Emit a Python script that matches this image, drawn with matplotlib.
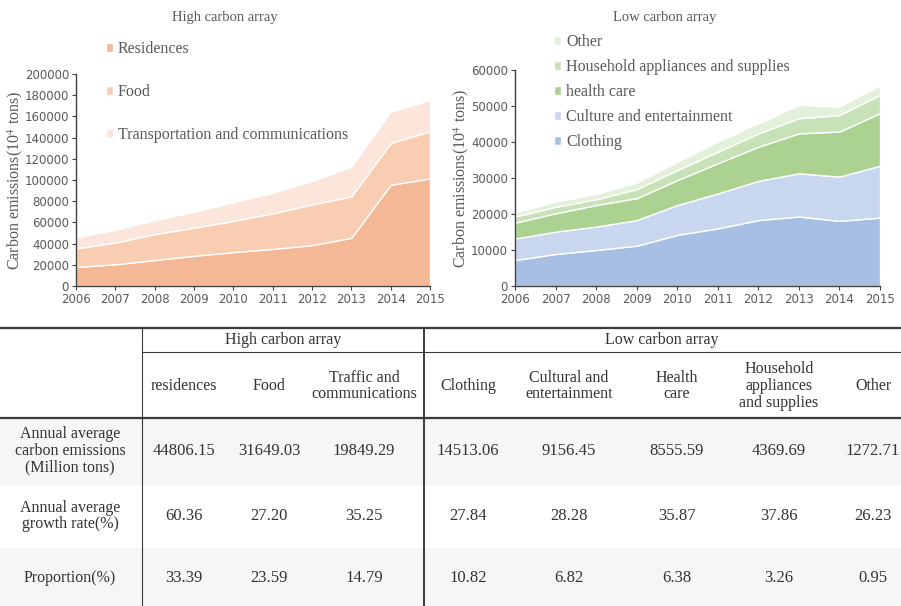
import numpy as np
import matplotlib
matplotlib.use("Agg")
import matplotlib.pyplot as plt

plt.rcParams['mathtext.fontset'] = 'stix'

years = [2006, 2007, 2008, 2009, 2010, 2011, 2012, 2013, 2014, 2015]

# high carbon array (10^4 tons)
residences = [18000, 20500, 24500, 28500, 32000, 35000, 38500, 45500, 95500, 101500]
food = [17500, 20500, 24500, 26500, 29500, 33500, 38500, 39000, 39500, 44500]
transport = [10500, 12000, 13000, 15000, 17500, 19500, 22000, 28000, 29500, 29500]
high_labels = ["Residences", "Food", "Transportation and communications"]
high_colors = ["#F4B896", "#F8CDB2", "#FCE5DA"]

# low carbon array (10^4 tons)
clothing = [7200, 8900, 10000, 11200, 14200, 16000, 18300, 19300, 18100, 19000]
culture = [6000, 6200, 6500, 7100, 8300, 9700, 10900, 12000, 12300, 14400]
health = [4400, 5100, 6000, 6100, 6900, 8400, 9500, 11100, 12500, 14600]
household = [1700, 1800, 1600, 2500, 2800, 3200, 3700, 4200, 4600, 5100]
other = [1100, 1400, 1500, 1800, 2200, 2800, 2800, 3700, 2300, 2700]
low_labels = ["Clothing", "Culture and entertainment", "health care",
              "Household appliances and supplies", "Other"]
low_colors = ["#A7BFE3", "#C8D7EF", "#ABD290", "#C7E2B6", "#E3F0DA"]

# table contents
col_headers = ["residences", "Food", "Traffic and\ncommunications",
               "Clothing", "Cultural and\nentertainment", "Health\ncare",
               "Household\nappliances\nand supplies", "Other"]
row_headers = ["Annual average\ncarbon emissions\n(Million tons)",
               "Annual average\ngrowth rate(%)", "Proportion(%)"]
avg_emissions = ["44806.15", "31649.03", "19849.29", "14513.06", "9156.45",
                 "8555.59", "4369.69", "1272.71"]
growth_rate = ["60.36", "27.20", "35.25", "27.84", "28.28", "35.87", "37.86", "26.23"]
proportion = ["33.39", "23.59", "14.79", "10.82", "6.82", "6.38", "3.26", "0.95"]

W, H = 901, 606
fig = plt.figure(figsize=(W / 100, H / 100), dpi=100)
txt = "#595959"
serif = "Liberation Serif"


def style_axes(ax, ymax, ystep):
    ax.set_xlim(2006, 2015)
    ax.set_ylim(0, ymax)
    ax.set_xticks(years)
    ax.set_yticks(np.arange(0, ymax + 1, ystep))
    for s in ["top", "right"]:
        ax.spines[s].set_visible(False)
    for s in ["left", "bottom"]:
        ax.spines[s].set_color("#404040")
        ax.spines[s].set_linewidth(1.0)
    ax.tick_params(direction="out", length=3, pad=2, colors="#404040",
                   labelcolor=txt, labelsize=8.5)
    ax.set_ylabel("Carbon emissions(10$^4$ tons)", family=serif, fontsize=11.5,
                  color=txt, labelpad=0)


# left chart
ax1 = fig.add_axes([76 / W, 1 - 286 / H, 354 / W, 212 / H])
polys = ax1.stackplot(years, residences, food, transport, colors=high_colors,
                      edgecolor="white", linewidth=1.0, labels=high_labels)
style_axes(ax1, 200000, 20000)
fig.text(225 / W, 1 - 18 / H, "High carbon array", ha="center", va="center",
         family=serif, fontsize=10.5, color=txt)
fig.legend(handles=polys, labels=high_labels, loc="upper left",
           bbox_to_anchor=(98 / W, 1 - 33 / H), frameon=False,
           prop={"family": serif, "size": 11.5}, labelcolor=txt,
           handlelength=0.45, handleheight=0.45, handletextpad=0.3,
           labelspacing=1.7, borderpad=0)

# right chart
ax2 = fig.add_axes([515 / W, 1 - 286 / H, 365 / W, 216 / H])
polys2 = ax2.stackplot(years, clothing, culture, health, household, other,
                       colors=low_colors, edgecolor="white", linewidth=1.0,
                       labels=low_labels)
style_axes(ax2, 60000, 10000)
fig.text(665 / W, 1 - 18 / H, "Low carbon array", ha="center", va="center",
         family=serif, fontsize=10.5, color=txt)
fig.legend(handles=polys2[::-1], labels=low_labels[::-1], loc="upper left",
           bbox_to_anchor=(546 / W, 1 - 26 / H), frameon=False,
           prop={"family": serif, "size": 11.5}, labelcolor=txt,
           handlelength=0.45, handleheight=0.45, handletextpad=0.3,
           labelspacing=0.57, borderpad=0)

# table drawn in pixel coordinates
tab = fig.add_axes([0, 0, 1, 1 - 326 / H])
tab.set_xlim(0, W)
tab.set_ylim(H, 326)
tab.axis("off")

col_x = [184, 269, 364, 468, 569, 677, 779, 873]
row_y = [451, 516, 578]
row_band = [(418, 485), (485, 548), (548, H)]
band_col = ["#F5F6F8", "white", "#F5F6F8"]

for (y0, y1), c in zip(row_band, band_col):
    tab.fill_between([0, W], y0, y1, color=c, lw=0, zorder=0)

line_col = "#3a3a3a"
tab.plot([0, W], [328, 328], color=line_col, lw=1.6)
tab.plot([142, W], [352, 352], color=line_col, lw=0.8)
tab.plot([0, W], [418, 418], color=line_col, lw=1.6)
tab.plot([142, 142], [328, H], color=line_col, lw=0.8)
tab.plot([424, 424], [328, H], color=line_col, lw=1.4)

tcol = "#333333"
tab.text(283, 340, "High carbon array", ha="center", va="center", family=serif,
         fontsize=11.5, color=tcol)
tab.text(662, 340, "Low carbon array", ha="center", va="center", family=serif,
         fontsize=11.5, color=tcol)
for x, h in zip(col_x, col_headers):
    tab.text(x, 386, h, ha="center", va="center", family=serif, fontsize=11.5,
             color=tcol, linespacing=1.05)
for y, h in zip(row_y, row_headers):
    tab.text(70, y, h, ha="center", va="center", family=serif, fontsize=11.5,
             color=tcol, linespacing=1.05)
for y, vals in zip(row_y, [avg_emissions, growth_rate, proportion]):
    for x, v in zip(col_x, vals):
        tab.text(x, y, v, ha="center", va="center", family=serif, fontsize=12,
                 color=tcol)

fig.savefig("out.png", dpi=100)
